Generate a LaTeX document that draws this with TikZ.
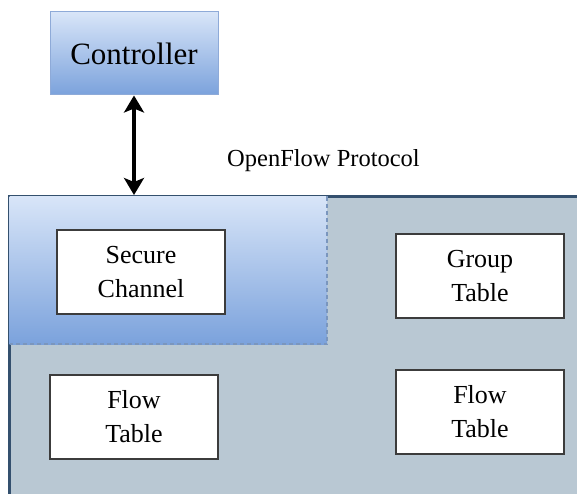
\documentclass[tikz,border=0pt]{standalone}
\usepackage{fontspec}
\setmainfont{Liberation Serif}
\usetikzlibrary{arrows.meta,shadings}
\definecolor{gradtop}{HTML}{D8E5F8}
\definecolor{gradbot}{HTML}{7BA2DC}
\definecolor{ctrlborder}{HTML}{8EAAD8}
\definecolor{switchfill}{HTML}{B9C8D3}
\definecolor{switchborder}{HTML}{34506E}
\definecolor{dashborder}{HTML}{7A96BE}
\definecolor{tableborder}{HTML}{3C3C3C}
\tikzset{
  tablebox/.style={draw=tableborder, line width=1.3pt, fill=white,
    minimum width=168pt, minimum height=84pt, inner sep=0pt,
    align=center, font=\rmfamily\fontsize{26}{34}\selectfont},
  ctrlbox/.style={draw=ctrlborder, line width=1pt, top color=gradtop, bottom color=gradbot,
    minimum width=168pt, minimum height=83pt, inner sep=0pt,
    font=\rmfamily\fontsize{31}{36}\selectfont},
  link/.style={line width=3.6pt, {Stealth[length=17pt,width=20pt,inset=4pt]}-{Stealth[length=17pt,width=20pt,inset=4pt]}},
}
\begin{document}
\begin{tikzpicture}[x=1pt,y=-1pt]
\useasboundingbox (0,0) rectangle (577,494);
\clip (0,0) rectangle (577,494);
% switch body
\node[draw=switchborder, line width=2.8pt, fill=switchfill, anchor=north west,
  minimum width=600pt, minimum height=320pt, inner sep=0pt] (switch) at (8,195) {};
% shaded area around the secure channel
\shade[top color=gradtop, bottom color=gradbot] (9.5,196.5) rectangle (327,344);
\draw[dashborder, dash pattern=on 4pt off 3pt, line width=1.1pt] (327,196.5) -- (327,344) -- (9.5,344);
% controller
\node[ctrlbox] (ctrl) at (134,53.5) {Controller};
\draw[link] (ctrl.south) -- (ctrl.south |- switch.north);
\node[font=\rmfamily\fontsize{24.5}{28}\selectfont] (proto) at (323.5,161) {OpenFlow Protocol};
% tables
\node[tablebox] (secure) at (141,272) {Secure\\Channel};
\node[tablebox] (group) at (480,276) {Group\\Table};
\node[tablebox] (flowl) at (134,417) {Flow\\Table};
\node[tablebox] (flowr) at (480,412) {Flow\\Table};
\end{tikzpicture}
\end{document}
